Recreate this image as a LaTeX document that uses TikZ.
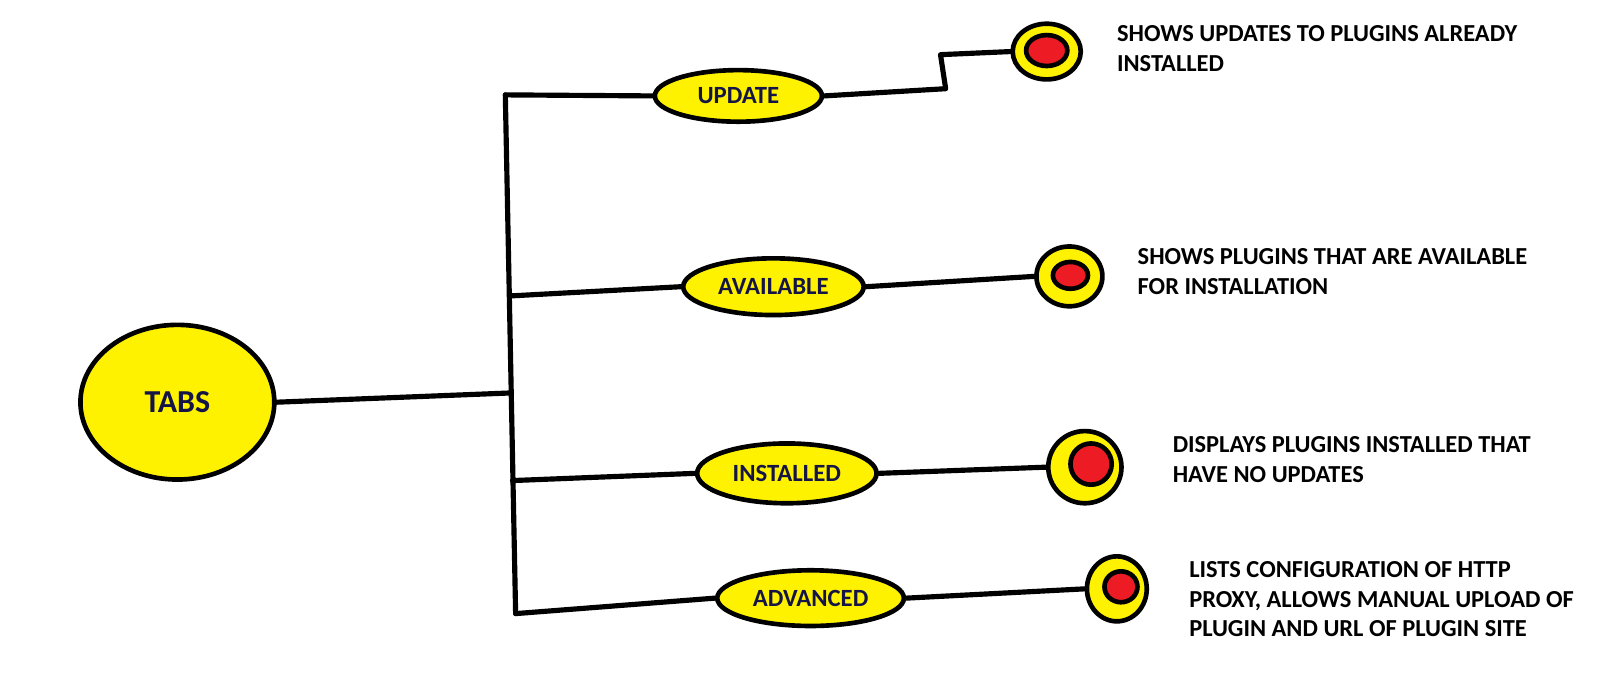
\documentclass[tikz,border=0pt]{standalone}
\usepackage{fontspec}
\setmainfont{Carlito}
\usetikzlibrary{shapes.geometric}
\definecolor{pyellow}{RGB}{255,242,0}
\definecolor{pred}{RGB}{237,28,36}
\definecolor{navy}{RGB}{20,20,70}
\begin{document}
\begin{tikzpicture}[x=1pt,y=-1pt,
  wire/.style={line width=5pt, line cap=round, line join=round},
  tab/.style={ellipse, draw, line width=4.5pt, fill=pyellow, inner sep=0pt,
    font=\bfseries\fontsize{24}{28}\selectfont, text=navy},
  ring/.style={ellipse, draw, line width=4.5pt, fill=pyellow, inner sep=0pt},
  dot/.style={ellipse, draw, line width=4.5pt, fill=pred, inner sep=0pt},
  desc/.style={anchor=west, align=left, inner sep=0pt,
    font=\bfseries\fontsize{23.7}{29}\selectfont}]
\useasboundingbox (0,0) rectangle (1568,659.4);
% main node
\node[tab, minimum width=188pt, minimum height=150pt,
  font=\bfseries\fontsize{31}{36}\selectfont] (tabs) at (172,390) {TABS};
% trunk
\coordinate (t1) at (490,92);
\coordinate (t2) at (494,287);
\coordinate (t3) at (497,466);
\coordinate (t4) at (500,595);
\coordinate (tm) at (496,381);
% tabs
\node[tab, minimum width=162pt, minimum height=50pt] (upd) at (716,93) {UPDATE};
\node[tab, minimum width=175pt, minimum height=55pt] (avl) at (750,278) {AVAILABLE};
\node[tab, minimum width=174pt, minimum height=58pt] (ins) at (763,459) {INSTALLED};
\node[tab, minimum width=181pt, minimum height=54pt] (adv) at (786,580) {ADVANCED};
% rings
\node[ring, minimum width=66pt, minimum height=54pt] (ru) at (1015,50) {};
\node[dot, minimum width=40pt, minimum height=30pt] (du) at (1015,49) {};
\node[ring, minimum width=64pt, minimum height=58pt] (ra) at (1037,268) {};
\node[dot, minimum width=34pt, minimum height=26pt] (da) at (1038,267) {};
\node[ring, minimum width=71pt, minimum height=70pt] (ri) at (1052,453) {};
\node[dot, minimum width=40pt, minimum height=40pt] (di) at (1058,450) {};
\node[ring, minimum width=58pt, minimum height=63pt] (rd) at (1083,571) {};
\node[dot, minimum width=32pt, minimum height=30pt] (dd) at (1087,569) {};
% descriptions
\node[desc] (xu) at (1083,47) {SHOWS UPDATES TO PLUGINS ALREADY\\INSTALLED};
\node[desc] (xa) at (1103,263) {SHOWS PLUGINS THAT ARE AVAILABLE\\FOR INSTALLATION};
\node[desc] (xi) at (1137,446) {DISPLAYS PLUGINS INSTALLED THAT\\HAVE NO UPDATES};
\node[desc] (xd) at (1153,581) {LISTS CONFIGURATION OF HTTP\\PROXY, ALLOWS MANUAL UPLOAD OF\\PLUGIN AND URL OF PLUGIN SITE};
% connectors
\coordinate (k1) at (917,86);
\coordinate (k2) at (912,53);
\draw[wire] (t1) -- (t4);
\draw[wire] (tabs.east) -- (tm);
\draw[wire] (t1) -- (upd.west);
\draw[wire] (t2) -- (avl.west);
\draw[wire] (t3) -- (ins.west);
\draw[wire] (t4) -- (adv.west);
\draw[wire] (upd.east) -- (k1) -- (k2) -- (ru.west);
\draw[wire] (avl.east) -- (ra.west);
\draw[wire] (ins.east) -- (ri.west);
\draw[wire] (adv.east) -- (rd.west);
\end{tikzpicture}
\end{document}
